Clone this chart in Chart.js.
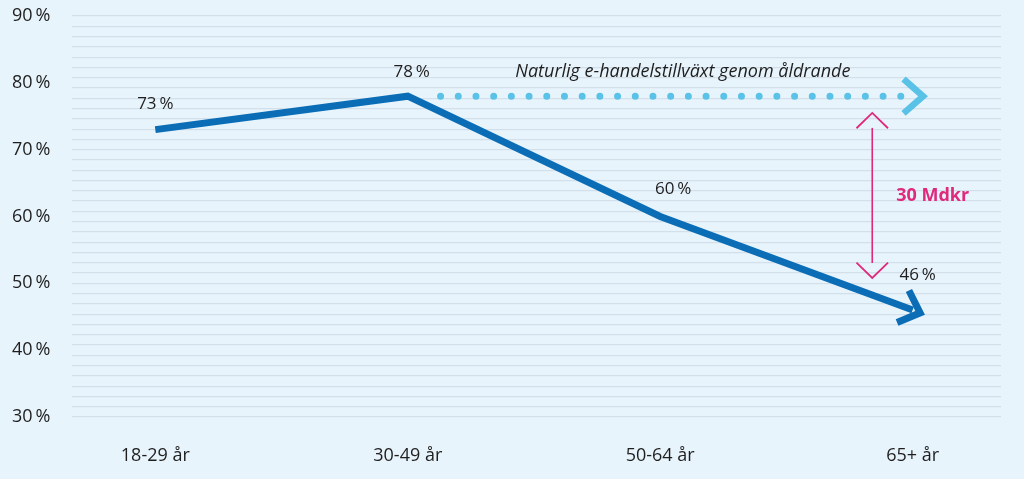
<!DOCTYPE html>
<html>
<head>
<meta charset="utf-8">
<script src="https://cdn.jsdelivr.net/npm/chart.js@4"></script>
<style>
  html, body { margin: 0; padding: 0; background: #e8f4fc; }
  #wrap { width: 1024px; height: 479px; }
</style>
</head>
<body>
<div id="wrap"><canvas id="ageChart"></canvas></div>
<script>
const ageGroups = ["18-29 år", "30-49 år", "50-64 år", "65+ år"];
const shareValues = [73, 78, 60, 46];
const growthFrom = [1.13, 78];   // dotted line start (x index, %)
const growthTo = [2.97, 78];     // dotted line end
const gapX = 2.84;               // pink arrow position
const gapTop = 75.5;
const gapBottom = 50.8;
const yTicks = [30, 40, 50, 60, 70, 80, 90];
const growthText = "Naturlig e-handelstillväxt genom åldrande";
const gapText = "30 Mdkr";

const FONT = "'Open Sans', 'Noto Sans', sans-serif";
const ctx = document.getElementById("ageChart").getContext("2d");

// arrows and text on top of the lines
const annotations = {
  id: "annotations",
  afterDatasetsDraw(chart) {
    const { ctx, scales: { x, y } } = chart;
    const c = ctx;
    c.save();

    // chevron helper
    function chevron(tx, ty, angle, len, spread, color, width) {
      c.strokeStyle = color;
      c.lineWidth = width;
      c.lineCap = "butt";
      c.lineJoin = "miter";
      c.beginPath();
      c.moveTo(tx - len * Math.cos(angle - spread), ty - len * Math.sin(angle - spread));
      c.lineTo(tx, ty);
      c.lineTo(tx - len * Math.cos(angle + spread), ty - len * Math.sin(angle + spread));
      c.stroke();
    }

    // main line arrow
    const n = shareValues.length;
    const px1 = x.getPixelForValue(n - 2), py1 = y.getPixelForValue(shareValues[n - 2]);
    const px2 = x.getPixelForValue(n - 1), py2 = y.getPixelForValue(shareValues[n - 1]);
    const a = Math.atan2(py2 - py1, px2 - px1);
    chevron(px2 + 8 * Math.cos(a), py2 + 8 * Math.sin(a), a, 25, 0.75, "#0a6db5", 7);

    // dotted line arrow
    const gx = x.getPixelForValue(growthTo[0]) + 18, gy = y.getPixelForValue(growthTo[1]);
    chevron(gx, gy, 0, 26, 0.72, "#5bc2e7", 6.5);

    // pink gap arrow
    const ax = x.getPixelForValue(gapX);
    const at = y.getPixelForValue(gapTop), ab = y.getPixelForValue(gapBottom);
    c.strokeStyle = "#e0287c";
    c.lineWidth = 1.6;
    c.beginPath();
    c.moveTo(ax, at + 15);
    c.lineTo(ax, ab - 15);
    c.stroke();
    chevron(ax, at, -Math.PI / 2, 22, 0.8, "#e0287c", 1.8);
    chevron(ax, ab, Math.PI / 2, 22, 0.8, "#e0287c", 1.8);

    c.fillStyle = "#e0287c";
    c.font = "bold 18px " + FONT;
    c.textAlign = "left";
    c.textBaseline = "middle";
    c.fillText(gapText, ax + 24, (at + ab) / 2);

    // value labels
    const offsets = [[0, -25], [4, -24], [13, -27], [5, -35]];
    c.fillStyle = "#1e1e1e";
    c.font = "17px " + FONT;
    c.textAlign = "center";
    shareValues.forEach((v, i) => {
      c.fillText(v + "\u2009%", x.getPixelForValue(i) + offsets[i][0], y.getPixelForValue(v) + offsets[i][1]);
    });

    // growth text
    c.font = "italic 18px " + FONT;
    c.fillText(growthText, x.getPixelForValue((growthFrom[0] + growthTo[0]) / 2) + 10, y.getPixelForValue(growthFrom[1]) - 24);

    c.restore();
  }
};

new Chart(ctx, {
  type: "line",
  data: {
    datasets: [
      {
        label: "Andel",
        data: shareValues.map((v, i) => ({ x: i, y: v })),
        borderColor: "#0a6db5",
        borderWidth: 7,
        pointRadius: 0,
        tension: 0,
        borderJoinStyle: "miter",
        borderCapStyle: "butt",
      },
      {
        label: "Tillväxt",
        data: [{ x: growthFrom[0], y: growthFrom[1] }, { x: growthTo[0], y: growthTo[1] }],
        borderColor: "#5bc2e7",
        borderWidth: 7,
        borderDash: [0, 17.7],
        borderCapStyle: "round",
        pointRadius: 0,
      },
    ],
  },
  options: {
    responsive: true,
    maintainAspectRatio: false,
    animation: false,
    layout: { padding: { top: 16, right: 23, bottom: 0, left: 12 } },
    plugins: {
      legend: { display: false },
      tooltip: { enabled: false },
    },
    scales: {
      x: {
        type: "linear",
        min: -0.33,
        max: 3.35,
        afterBuildTicks: axis => { axis.ticks = ageGroups.map((_, i) => ({ value: i })); },
        afterFit: axis => { axis.height = 62; axis.paddingLeft = 0; axis.paddingRight = 0; },
        grid: { display: false },
        border: { display: false },
        ticks: {
          callback: v => ageGroups[v],
          color: "#1e1e1e",
          font: { family: FONT, size: 18 },
          padding: 20,
        },
      },
      y: {
        min: 30,
        max: 90,
        afterBuildTicks: axis => { axis.ticks = yTicks.map(v => ({ value: v })); },
        afterFit: axis => { axis.width = 60; axis.paddingTop = 0; axis.paddingBottom = 0; },
        grid: { display: false },
        border: { display: false },
        ticks: {
          callback: v => v + "\u2009%",
          color: "#1e1e1e",
          font: { family: FONT, size: 18 },
          crossAlign: "far",
          padding: 12,
        },
      },
      yGrid: {
        position: "left",
        min: 30,
        max: 90,
        afterBuildTicks: axis => {
          const t = [];
          for (let i = 0; i <= 39; i++) t.push({ value: 30 + i * 60 / 39 });
          axis.ticks = t;
        },
        afterFit: axis => { axis.width = 0; axis.paddingTop = 0; axis.paddingBottom = 0; },
        grid: { color: "#d3e0ea", lineWidth: 1.2, drawTicks: false },
        border: { display: false },
        ticks: { display: false },
      },
    },
  },
  plugins: [annotations],
});
</script>
</body>
</html>
